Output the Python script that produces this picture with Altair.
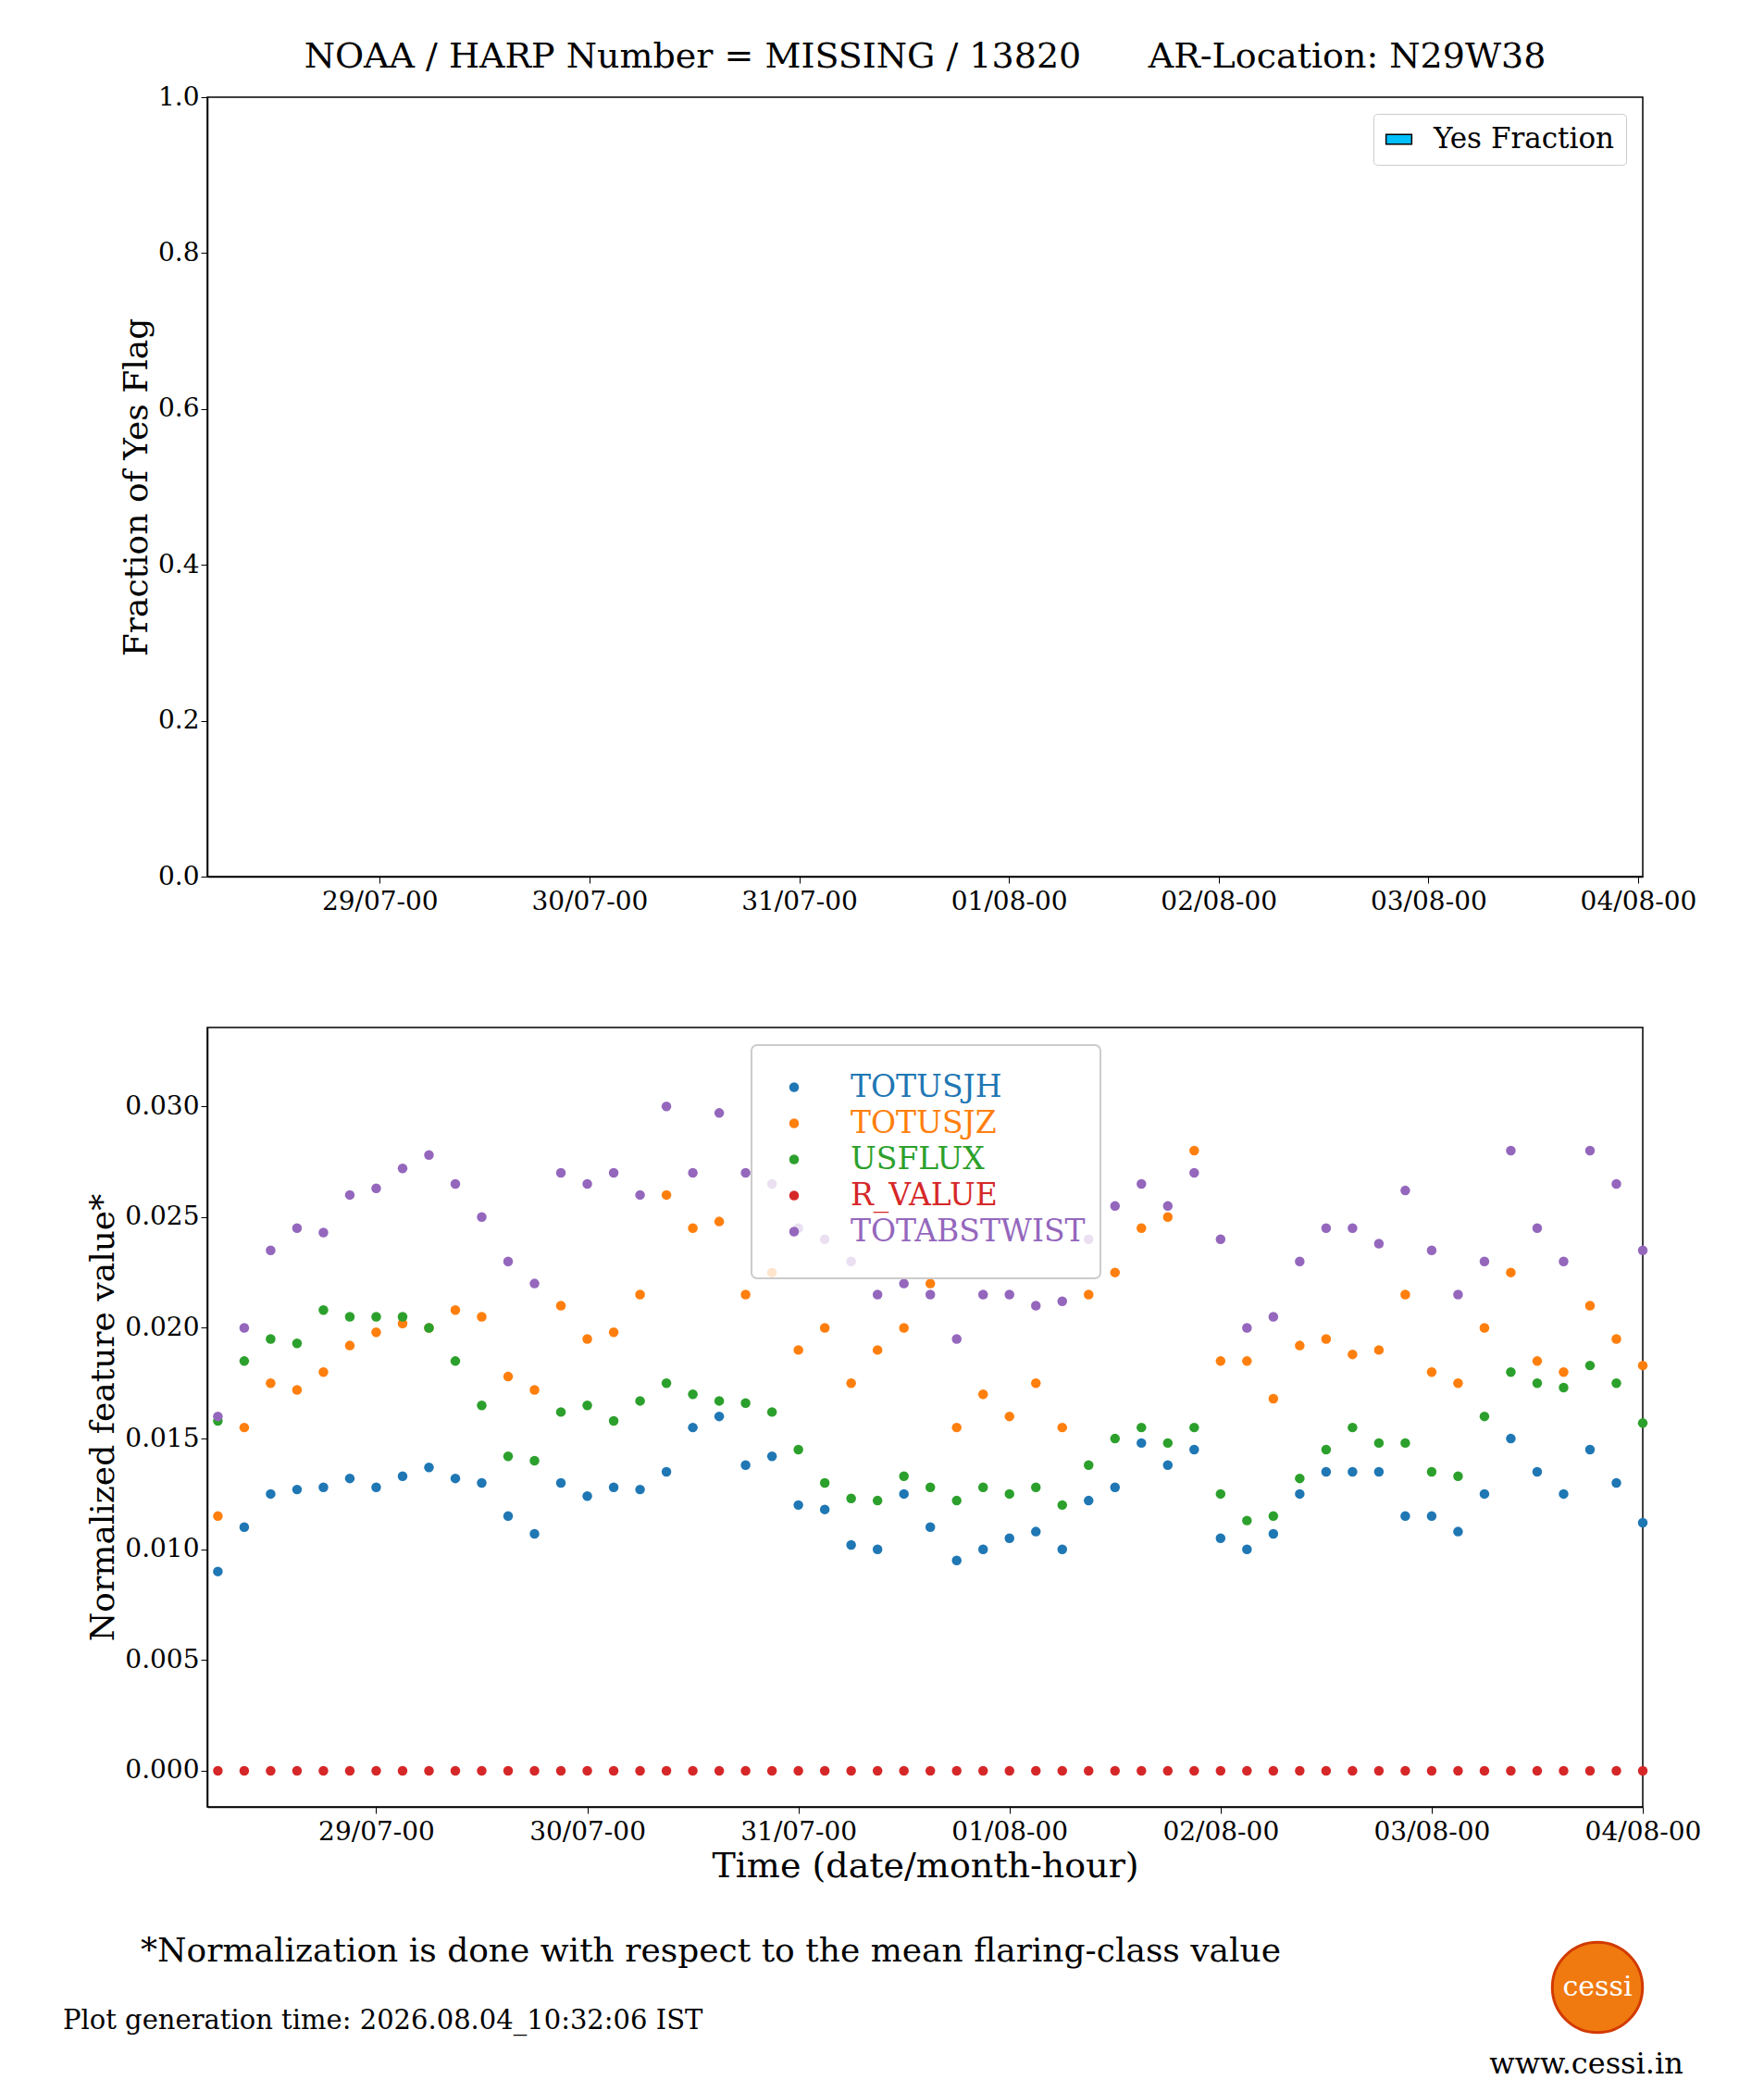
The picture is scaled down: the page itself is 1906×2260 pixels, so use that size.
import pandas as pd
import altair as alt

# 3-hourly samples, 28/07 06:00 .. 04/08 00:00 (UTC)
times = pd.date_range("2026-07-28 06:00", "2026-08-04 00:00", freq="3h")

totusjh = [0.0090, 0.0110, 0.0125, 0.0127, 0.0128, 0.0132, 0.0128, 0.0133, 0.0137, 0.0132,
           0.0130, 0.0115, 0.0107, 0.0130, 0.0124, 0.0128, 0.0127, 0.0135, 0.0155, 0.0160,
           0.0138, 0.0142, 0.0120, 0.0118, 0.0102, 0.0100, 0.0125, 0.0110, 0.0095, 0.0100,
           0.0105, 0.0108, 0.0100, 0.0122, 0.0128, 0.0148, 0.0138, 0.0145, 0.0105, 0.0100,
           0.0107, 0.0125, 0.0135, 0.0135, 0.0135, 0.0115, 0.0115, 0.0108, 0.0125, 0.0150,
           0.0135, 0.0125, 0.0145, 0.0130, 0.0112]
totusjz = [0.0115, 0.0155, 0.0175, 0.0172, 0.0180, 0.0192, 0.0198, 0.0202, 0.0200, 0.0208,
           0.0205, 0.0178, 0.0172, 0.0210, 0.0195, 0.0198, 0.0215, 0.0260, 0.0245, 0.0248,
           0.0215, 0.0225, 0.0190, 0.0200, 0.0175, 0.0190, 0.0200, 0.0220, 0.0155, 0.0170,
           0.0160, 0.0175, 0.0155, 0.0215, 0.0225, 0.0245, 0.0250, 0.0280, 0.0185, 0.0185,
           0.0168, 0.0192, 0.0195, 0.0188, 0.0190, 0.0215, 0.0180, 0.0175, 0.0200, 0.0225,
           0.0185, 0.0180, 0.0210, 0.0195, 0.0183]
usflux = [0.0158, 0.0185, 0.0195, 0.0193, 0.0208, 0.0205, 0.0205, 0.0205, 0.0200, 0.0185,
          0.0165, 0.0142, 0.0140, 0.0162, 0.0165, 0.0158, 0.0167, 0.0175, 0.0170, 0.0167,
          0.0166, 0.0162, 0.0145, 0.0130, 0.0123, 0.0122, 0.0133, 0.0128, 0.0122, 0.0128,
          0.0125, 0.0128, 0.0120, 0.0138, 0.0150, 0.0155, 0.0148, 0.0155, 0.0125, 0.0113,
          0.0115, 0.0132, 0.0145, 0.0155, 0.0148, 0.0148, 0.0135, 0.0133, 0.0160, 0.0180,
          0.0175, 0.0173, 0.0183, 0.0175, 0.0157]
r_value = [0.0] * 55
totabstwist = [0.0160, 0.0200, 0.0235, 0.0245, 0.0243, 0.0260, 0.0263, 0.0272, 0.0278, 0.0265,
               0.0250, 0.0230, 0.0220, 0.0270, 0.0265, 0.0270, 0.0260, 0.0300, 0.0270, 0.0297,
               0.0270, 0.0265, 0.0245, 0.0240, 0.0230, 0.0215, 0.0220, 0.0215, 0.0195, 0.0215,
               0.0215, 0.0210, 0.0212, 0.0240, 0.0255, 0.0265, 0.0255, 0.0270, 0.0240, 0.0200,
               0.0205, 0.0230, 0.0245, 0.0245, 0.0238, 0.0262, 0.0235, 0.0215, 0.0230, 0.0280,
               0.0245, 0.0230, 0.0280, 0.0265, 0.0235]

names = ["TOTUSJH", "TOTUSJZ", "USFLUX", "R_VALUE", "TOTABSTWIST"]
colors = ["#1f77b4", "#ff7f0e", "#2ca02c", "#d62728", "#9467bd"]
series = [totusjh, totusjz, usflux, r_value, totabstwist]

rows = []
for n, vals in zip(names, series):
    for t, v in zip(times, vals):
        rows.append({"time": t.strftime("%Y-%m-%dT%H:%M:%SZ"), "feature": n, "value": v})
df = pd.DataFrame(rows)

FONT = "DejaVu Serif"
W, H = 1551, 842
xdom = ["2026-07-28T04:48:00Z", "2026-08-04T00:00:00Z"]
day_ticks = [alt.DateTime(year=2026, month=m, date=d, utc=True)
             for m, d in [(7, 29), (7, 30), (7, 31), (8, 1), (8, 2), (8, 3), (8, 4)]]


def xaxis(title=None):
    return alt.X("time:T", title=title,
                 scale=alt.Scale(type="utc", domain=xdom),
                 axis=alt.Axis(values=day_ticks, format="%d/%m-%H", grid=False, labelFlush=False,
                               labelFontSize=28, titleFontSize=38, labelPadding=6))


# top panel: yes fraction (empty)
yes = pd.DataFrame({"time": ["2026-07-29T00:00:00Z"], "frac": [0.0], "label": ["Yes Fraction"]})
top = alt.Chart(yes).mark_bar(strokeWidth=0).encode(
    x=xaxis(),
    y=alt.Y("frac:Q", title="Fraction of Yes Flag", scale=alt.Scale(domain=[0, 1]),
            axis=alt.Axis(values=[0, 0.2, 0.4, 0.6, 0.8, 1.0], format=".1f", grid=False,
                          labelFontSize=28, titleFontSize=36)),
    color=alt.Color("label:N", title=None,
                    scale=alt.Scale(domain=["Yes Fraction"], range=["#00bfff"]),
                    legend=alt.Legend(orient="top-right", offset=18, labelFontSize=31,
                                      symbolType="M-1.6,-0.6L1.6,-0.6L1.6,0.6L-1.6,0.6Z",
                                      symbolSize=300, labelOffset=22, labelLimit=400,
                                      symbolStrokeColor="black", symbolStrokeWidth=1.5,
                                      fillColor="white", strokeColor="#cccccc",
                                      cornerRadius=4, padding=12)),
).properties(width=W, height=H,
             title=alt.TitleParams("NOAA / HARP Number = MISSING / 13820\u00a0\u00a0\u00a0\u00a0\u00a0\u00a0AR-Location: N29W38",
                                   fontSize=38, fontWeight="normal", offset=10))

color_scale = alt.Scale(domain=names, range=colors)

points = alt.Chart(df).mark_circle(size=110, opacity=1).encode(
    x=xaxis("Time (date/month-hour)"),
    y=alt.Y("value:Q", title="Normalized feature value*",
            scale=alt.Scale(domain=[-0.00163, 0.03356], nice=False, zero=False),
            axis=alt.Axis(values=[0, 0.005, 0.01, 0.015, 0.02, 0.025, 0.03], format=".3f",
                          grid=False, labelFontSize=28, titleFontSize=36)),
    color=alt.Color("feature:N", scale=color_scale, legend=None),
)

# hand-made legend with coloured labels
leg = pd.DataFrame({"feature": names})
leg_y = alt.Y("feature:N", scale=alt.Scale(domain=names, range=[45, 240]), axis=None)
leg_box = alt.Chart(leg.iloc[[0]]).mark_rect(fill="white", fillOpacity=0.8, stroke="#cccccc",
                                             strokeWidth=2, cornerRadius=6).encode(
    x=alt.value(588), x2=alt.value(965), y=alt.value(19), y2=alt.value(271))
leg_pts = alt.Chart(leg).mark_circle(size=110, opacity=1).encode(
    x=alt.value(634), y=leg_y, color=alt.Color("feature:N", scale=color_scale, legend=None))
leg_txt = alt.Chart(leg).mark_text(align="left", baseline="middle", fontSize=33, font=FONT).encode(
    x=alt.value(695), y=leg_y, text="feature:N",
    color=alt.Color("feature:N", scale=color_scale, legend=None))

notes = pd.DataFrame({
    "txt": ["*Normalization is done with respect to the mean flaring-class value",
            "Plot generation time: 2026.08.04_10:32:06 IST",
            "www.cessi.in"],
    "px": [-72, -156, 1490],
    "py": [998, 1073, 1120],
    "fs": [36, 29, 32],
    "al": ["left", "left", "center"],
})
note_layers = [
    alt.Chart(notes.iloc[[i]]).mark_text(align=r.al, baseline="middle", fontSize=r.fs,
                                         color="black", font=FONT).encode(
        x=alt.value(r.px), y=alt.value(r.py), text="txt:N")
    for i, r in notes.iterrows()
]

logo = pd.DataFrame({"name": ["cessi"]})
sun = alt.Chart(logo).mark_circle(size=9500, opacity=1, color="#f07a10",
                                  stroke="#d23a00", strokeWidth=3).encode(
    x=alt.value(1502), y=alt.value(1037))
sun_text = alt.Chart(logo).mark_text(fontSize=30, color="white", font=FONT).encode(
    x=alt.value(1502), y=alt.value(1037), text="name:N")

bottom = alt.layer(points, leg_box, leg_pts, leg_txt, *note_layers, sun, sun_text).properties(
    width=W, height=H)

chart = alt.vconcat(top, bottom, spacing=120).resolve_scale(color="independent").configure(
    font=FONT, padding={"left": 59, "top": 34, "right": 10, "bottom": 10}
).configure_view(stroke="black", strokeWidth=1.5).configure_axis(
    domainColor="black", tickColor="black", labelColor="black", titleColor="black",
    labelFont=FONT, titleFont=FONT,
    titleFontWeight="normal", tickSize=7, domainWidth=1.5
).configure_title(font=FONT).configure_legend(labelFont=FONT)

chart.save("out.html", embed_options={"renderer": "svg", "actions": False})
